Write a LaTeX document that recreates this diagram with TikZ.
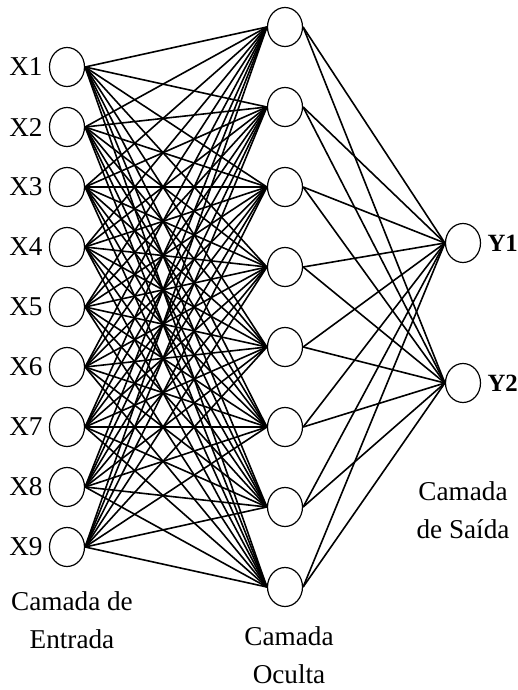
\documentclass[tikz,border=0pt]{standalone}
\usepackage{fontspec}
\setmainfont{Liberation Serif}
\usetikzlibrary{positioning,shapes.geometric}
\tikzset{
  neuron/.style={draw, ellipse, line width=0.6pt, minimum width=17.5pt, minimum height=19.5pt, inner sep=0pt},
  synapse/.style={line width=0.8pt},
  lbl/.style={font=\fontsize{13.6}{15}\selectfont, inner sep=0pt},
  outlbl/.style={font=\fontsize{12.4}{13}\selectfont\bfseries, inner sep=0pt},
  layertext/.style={font=\fontsize{13.6}{19}\selectfont, align=center, inner sep=0pt}
}

\begin{document}
\begin{tikzpicture}[x=0.5pt, y=-0.5pt]
      \useasboundingbox (0,0) rectangle (518,690);
      % entrada
      \foreach \i in {1,...,9} {
        \node[neuron] (in\i) at (67,{67+60*(\i-1)}) {};
        \node[lbl, left=3pt of in\i] (xl\i) {X\i};
      }
      % camada oculta
      \foreach \j in {1,...,8} {
        \node[neuron] (hid\j) at (285,{27+80*(\j-1)}) {};
      }
      % saida
      \node[neuron] (out1) at (463,243) {};
      \node[neuron] (out2) at (463,383) {};
      \node[outlbl, right=3pt of out1] (yl1) {Y1};
      \node[outlbl, right=3pt of out2] (yl2) {Y2};
      % ligacoes
      \foreach \i in {1,...,9}
        \foreach \j in {1,...,8}
          \draw[synapse] (in\i.east) -- (hid\j.west);
      \foreach \j in {1,...,8}
        \foreach \k in {1,2}
          \draw[synapse] (hid\j.east) -- (out\k.west);
      % nomes das camadas
      \node[layertext] (tin) at (72,620) {Camada de\\Entrada};
      \node[layertext] (thid) at (289,655) {Camada\\Oculta};
      \node[layertext] (tout) at (463,510) {Camada\\de Sa\'ida};
    \end{tikzpicture}
\end{document}
